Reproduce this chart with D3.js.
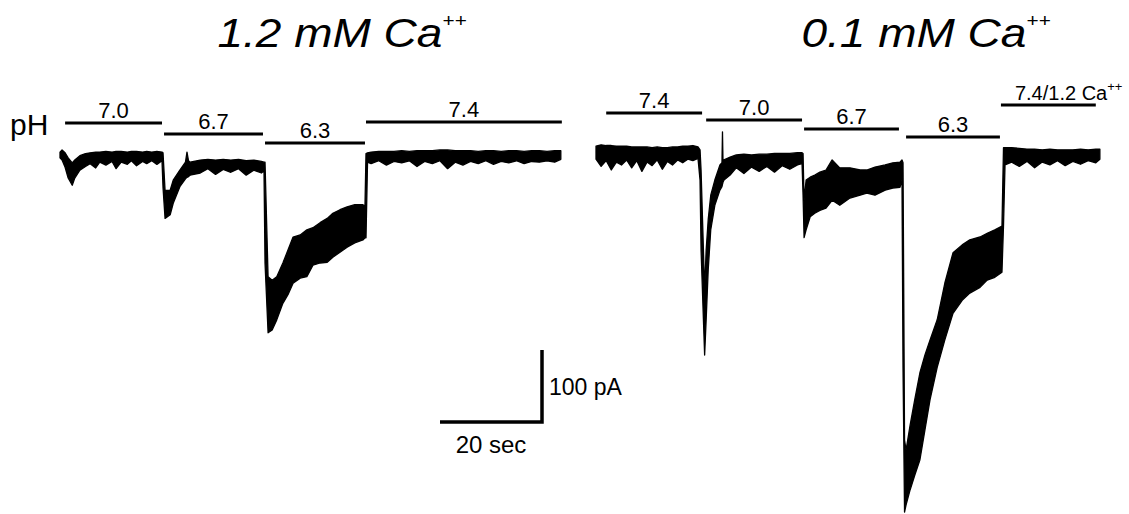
<!DOCTYPE html>
<html>
<head>
<meta charset="utf-8">
<script src="https://cdn.jsdelivr.net/npm/d3@7"></script>
<style>
  body { margin: 0; background: #fff; }
  svg { display: block; font-family: "Liberation Sans", Arial, sans-serif; }
</style>
</head>
<body>
<svg id="chart" width="1129" height="514"></svg>
<script>
// traces: [time (s), upper edge (pA), lower edge (pA)] of the noisy current band
const trace12 = [
  [0,4,-4],[0.4,7,-7],[1.0,3,-17],[1.6,-4,-32],[2.4,-11,-42],[2.9,-7,-32],[3.9,-1,-21],[5.0,2,-16],
  [5.9,3,-12],[7.0,4,-18],[7.8,4,-10],[9.0,5,-14],[10.2,4,-9],[11.0,5,-19],[12.0,5,-10],[13.2,4,-13],
  [14.0,5,-8],[15.0,5,-15],[16.2,4,-9],[17.0,5,-12],[18.0,4,-8],[19.0,5,-13],[20.0,4,-8],
  [20.2,3,-45],[20.6,-49,-88],[21.6,-49,-83],[22.2,-35,-67],[23.5,-21,-44],[24.6,-10,-33],[24.9,4,-31],
  [25.2,-8,-30],[25.5,-10,-28],[27.5,-7,-25],[29,-6,-19],[30.5,-7,-27],[32,-6,-20],[33.5,-7,-24],
  [35,-6,-19],[36.5,-8,-28],[38,-7,-21],[39.5,-9,-25],[40.0,-10,-22],
  [40.2,-10,-150],[40.8,-169,-247],[41.6,-174,-243],[42.5,-169,-229],[43.7,-150,-206],[44.7,-132,-194],
  [45.7,-114,-178],[47.1,-111,-171],[48.4,-104,-169],[49.6,-101,-153],[51.0,-94,-150],[52.4,-88,-149],
  [53.5,-81,-142],[54.9,-76,-135],[56.3,-72,-128],[57.8,-69,-122],[59.4,-69,-118],[59.8,-71,-115],
  [60.0,2,-115],[60.3,3,-10],[61,4,-12],[62.5,5,-8],[64,5,-14],[65.5,5,-9],[67,6,-11],[68.5,5,-8],
  [70,6,-16],[71.5,6,-9],[73,6,-12],[74.5,7,-8],[76,7,-19],[77.5,6,-10],[79,6,-14],[80.5,6,-9],
  [82,5,-12],[83.5,6,-8],[85,6,-13],[86.5,5,-9],[88,6,-11],[89.5,6,-8],[91,5,-12],[92.5,6,-9],
  [94,6,-10],[95.5,5,-8],[97,6,-10],[98.2,6,-6]
];

const trace01 = [
  [0,8,-10],[1,10,-20],[2,9,-12],[3,9,-25],[4,8,-14],[5,8,-18],[6,8,-11],[7,7,-22],[8,7,-12],
  [9,7,-27],[10,7,-14],[11,6,-19],[12,7,-11],[13,6,-24],[14,6,-13],[15,7,-18],[16,7,-11],[17,8,-15],
  [18,8,-10],[19,9,-12],[20,7,-9],
  [20.4,3,-39],[20.6,-25,-136],[21.3,-192,-282],[21.6,-136,-233],[22.0,-94,-164],[22.5,-60,-108],
  [23.3,-39,-74],[24.3,-18,-53],[24.7,-15,-48],[24.8,28,-45],[24.9,-12,-42],[25.1,-11,-39],[26.3,-7,-32],
  [27.5,-4,-22],[29,-3,-30],[30.5,-4,-21],[32,-3,-27],[33.5,-3,-20],[35,-2,-28],[36.5,-2,-19],
  [38,-2,-24],[39.5,-1,-18],[40.4,-1,-16],
  [40.6,-2,-60],[40.8,-67,-119],[41.2,-39,-108],[42.0,-35,-90],[42.9,-32,-85],[43.9,-28,-81],
  [45.1,-25,-78],[46.3,-11,-67],[47.8,-22,-74],[49.8,-22,-64],[51.8,-25,-60],[53.1,-25,-57],
  [54.7,-21,-60],[56.7,-18,-53],[58.2,-15,-50],[59.6,-14,-49],[60.0,-11,-39],
  [60.2,-15,-300],[60.5,-400,-500],[60.8,-414,-490],[61.6,-379,-469],[62.5,-344,-449],[63.5,-307,-428],
  [64.5,-282,-386],[65.5,-261,-344],[66.9,-233,-299],[68.4,-182,-261],[70.0,-140,-224],[71.8,-129,-206],
  [73.3,-122,-196],[75.3,-118,-188],[76.7,-113,-178],[78.2,-108,-174],[79.6,-103,-167],
  [79.9,6,-103],[80.2,6,-18],[81.5,6,-14],[83,5,-20],[84.5,4,-13],[86,4,-22],[87.5,3,-14],[89,4,-18],
  [90.5,3,-12],[92,3,-19],[93.5,3,-13],[95,4,-17],[96.5,3,-12],[98,4,-15],[98.8,4,-10]
];

// solution applications (s)
const solutions12 = [
  {label: "7.0", from: 1.0, to: 20.0},
  {label: "6.7", from: 20.4, to: 39.8},
  {label: "6.3", from: 40.2, to: 59.8},
  {label: "7.4", from: 60.0, to: 98.4}
];
const solutions01 = [
  {label: "7.4", from: 2.0, to: 20.8},
  {label: "7.0", from: 21.6, to: 40.4},
  {label: "6.7", from: 40.8, to: 59.4},
  {label: "6.3", from: 60.8, to: 79.2},
  {label: "7.4/1.2 Ca", sup: "++", from: 79.4, to: 98.0}
];
const titles = ["1.2 mM Ca", "0.1 mM Ca"];
const scaleTime = 20;     // s
const scaleCurrent = 100; // pA

const svg = d3.select("#chart");

const x = d3.scaleLinear().domain([0, 100]).range([0, 510]);
const y = d3.scaleLinear().domain([0, -100]).range([0, 72]);

const panels = [
  {trace: trace12, bars: solutions12, title: titles[0], left: 60, base: 155,
   barY: [123, 134, 143, 122], titleX: 342},
  {trace: trace01, bars: solutions01, title: titles[1], left: 596, base: 152,
   barY: [113, 120, 129, 137, 105], titleX: 926}
];

const area = d3.area()
  .x(d => x(d[0]))
  .y0(d => y(d[1]))
  .y1(d => y(d[2]));

panels.forEach(p => {
  // title
  const t = svg.append("g")
    .attr("transform", "translate(" + p.titleX + ",47) scale(1.15,1)")
    .append("text")
    .attr("text-anchor", "middle")
    .attr("font-size", 40)
    .attr("font-style", "italic");
  t.append("tspan").text(p.title);
  t.append("tspan").attr("font-size", 18).attr("dy", -20).text("++");

  // current trace
  svg.append("g")
    .attr("transform", "translate(" + p.left + "," + p.base + ")")
    .append("path")
    .datum(p.trace)
    .attr("d", area)
    .attr("fill", "#000")
    .attr("stroke", "#000")
    .attr("stroke-width", 1.3)
    .attr("stroke-linejoin", "round");

  // pH bars
  const bg = svg.append("g").attr("transform", "translate(" + p.left + ",0)");
  bg.selectAll("line")
    .data(p.bars)
    .join("line")
      .attr("x1", d => x(d.from))
      .attr("x2", d => x(d.to))
      .attr("y1", (d, i) => p.barY[i])
      .attr("y2", (d, i) => p.barY[i])
      .attr("stroke", "#000")
      .attr("stroke-width", 3);

  const lbl = bg.selectAll("text")
    .data(p.bars)
    .join("text")
      .attr("x", d => d.sup ? x(d.from) + 14 : x((d.from + d.to) / 2))
      .attr("y", (d, i) => p.barY[i] - 5)
      .attr("text-anchor", d => d.sup ? "start" : "middle")
      .attr("font-size", d => d.sup ? 20 : 22);
  lbl.append("tspan").text(d => d.label);
  lbl.filter(d => d.sup)
    .append("tspan")
      .attr("font-size", 13)
      .attr("dy", -9)
      .text(d => d.sup);
});

svg.append("text")
  .attr("x", 10)
  .attr("y", 135)
  .attr("font-size", 30)
  .text("pH");

// scale bar
const sb = svg.append("g").attr("transform", "translate(440,422)");
sb.append("path")
  .attr("d", "M0,0H" + x(scaleTime) + "V" + (-y(-scaleCurrent)))
  .attr("fill", "none")
  .attr("stroke", "#000")
  .attr("stroke-width", 3.5);
sb.append("text")
  .attr("x", x(scaleTime) + 7)
  .attr("y", -27)
  .attr("font-size", 23)
  .text(scaleCurrent + " pA");
sb.append("text")
  .attr("x", x(scaleTime / 2))
  .attr("y", 31)
  .attr("text-anchor", "middle")
  .attr("font-size", 24)
  .text(scaleTime + " sec");
</script>
</body>
</html>
